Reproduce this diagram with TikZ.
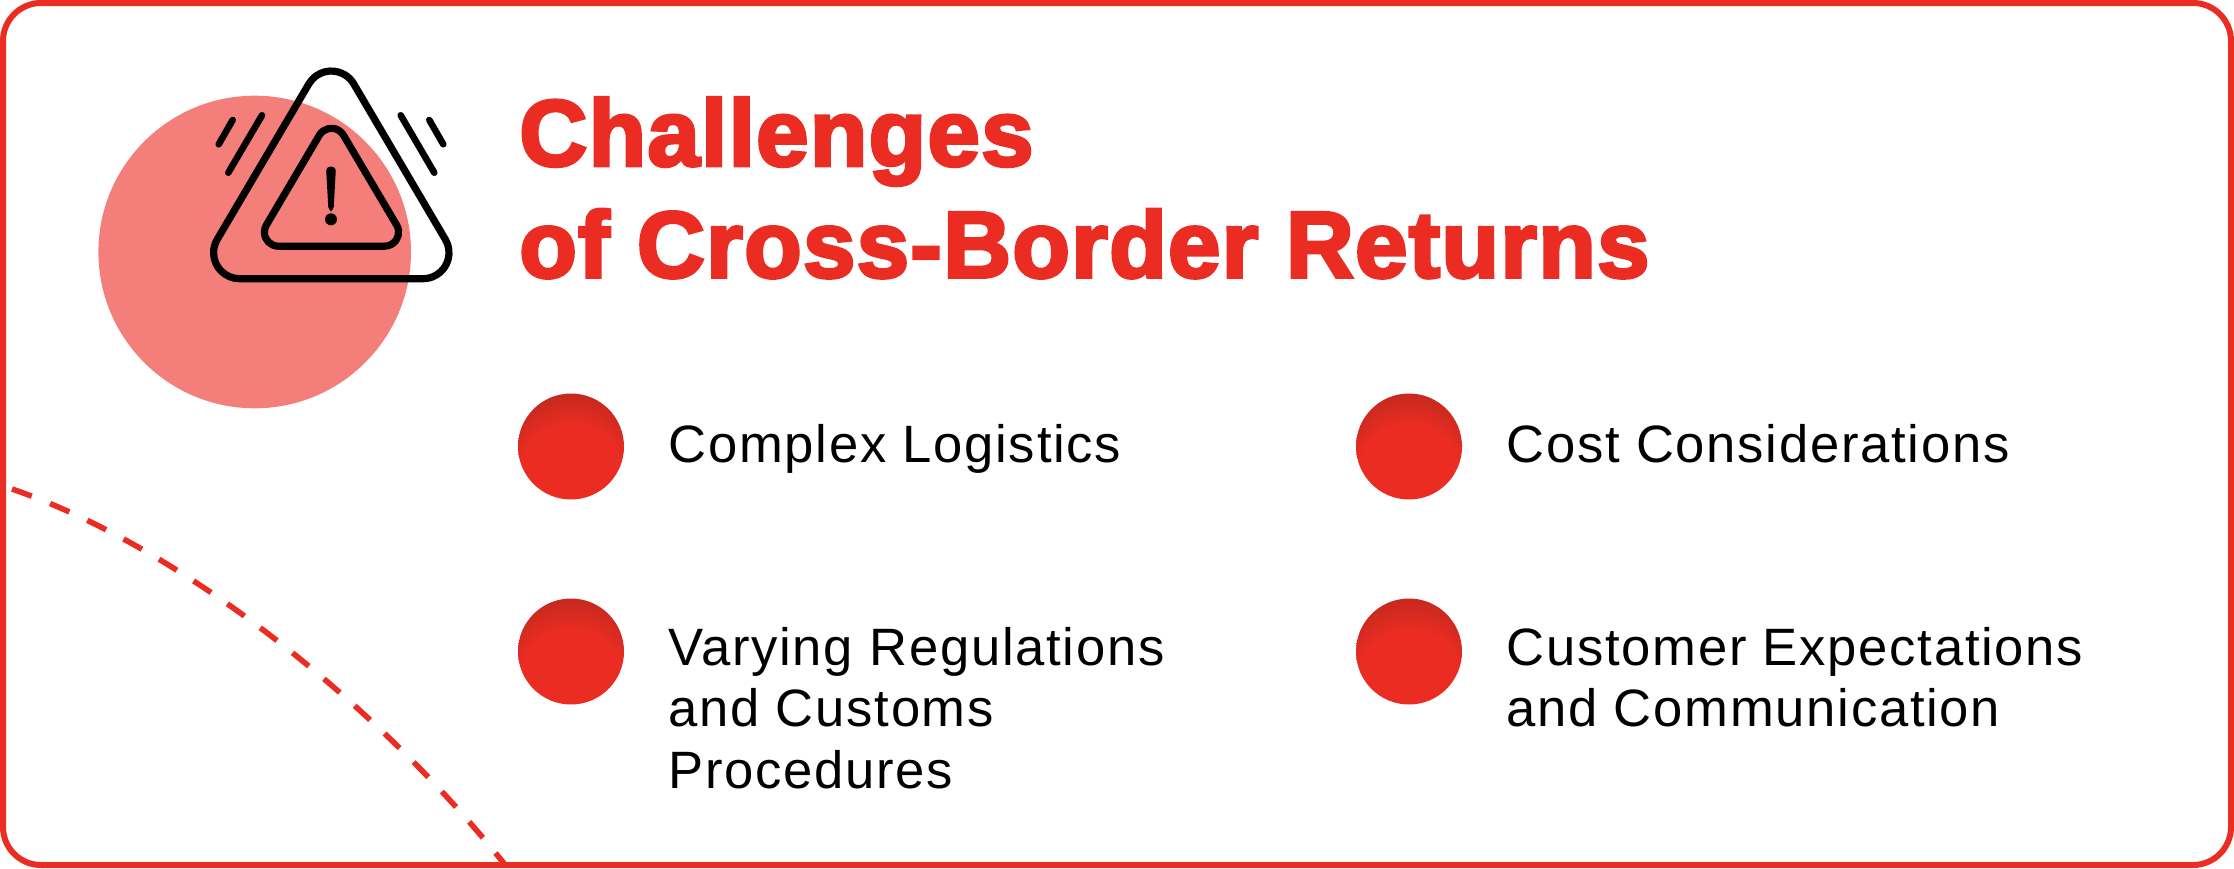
\documentclass[tikz,border=0pt]{standalone}
\usepackage{fontspec}
\setmainfont[LetterSpace=3.3]{Liberation Sans}
\newfontfamily\titlefont[FakeBold=3.5,LetterSpace=1.5]{Liberation Sans Bold}
\definecolor{brandred}{HTML}{EB2C22}
\definecolor{blobred}{HTML}{F47E7A}
\definecolor{shadered}{HTML}{B5281E}
\pgfdeclareradialshading{bulletshade}{\pgfpoint{0bp}{-18bp}}{
	color(0bp)=(brandred);
	color(24bp)=(brandred);
	color(42bp)=(shadered);
	color(100bp)=(shadered)}
\begin{document}
\begin{tikzpicture}[
		x=0.5pt, y=-0.5pt,
		bullet/.style={circle, minimum size=53pt, inner sep=0pt, shading=bulletshade},
		itemtext/.style={anchor=base west, align=left, inner sep=0pt, font=\fontsize{26.3}{30.8}\selectfont},
		headline/.style={anchor=base west, inner sep=0pt, text=brandred, font=\titlefont\fontsize{47}{47}\selectfont},
		icon/.style={draw=black, line width=3.6pt, line cap=round, line join=round}
	]
  \useasboundingbox (0,0) rectangle (2234,868);
  \draw [brandred, line width=3pt, rounded corners=19pt] (3,3) rectangle (2231,865);

  \fill [blobred] (254.7,252) circle [radius=78.15pt];

  % warning icon
  \draw [icon] (308.89,83.82) arc [start angle=210.47, end angle=329.53, radius=26]
    -- (445.41,239.52) arc [start angle=329.53, end angle=450, radius=26]
    -- (239.6,278.7) arc [start angle=90, end angle=210.47, radius=26] -- cycle;
  \draw [icon] (319.34,135.2) arc [start angle=210.47, end angle=329.53, radius=14]
    -- (396.66,225.1) arc [start angle=329.53, end angle=450, radius=14]
    -- (278.4,246.2) arc [start angle=90, end angle=210.47, radius=14] -- cycle;
  \draw [icon, line width=3.3pt] (232.7,120) -- (218.7,144.3);
  \draw [icon, line width=3.3pt] (262,115.3) -- (228.3,172.7);
  \draw [icon, line width=3.3pt] (400.7,115.3) -- (434.3,172.7);
  \draw [icon, line width=3.3pt] (429.3,120) -- (443.3,144.3);
  \fill [rounded corners=2pt] (326,166.7) -- (336,166.7) -- (333.5,211) -- (328.5,211) -- cycle;
  \fill (331,219.3) circle [radius=3pt];

  \node (line1) [headline] at (519,165.7) {Challenges};
  \node (line2) [headline] at (519,277.3) {of Cross-Border Returns};

  \node (b1) [bullet] at (571,446.5) {};
  \node (b2) [bullet] at (1409,446.5) {};
  \node (b3) [bullet] at (571,651.5) {};
  \node (b4) [bullet] at (1409,651.5) {};

  \node (t1) [itemtext] at (668,462.7) {Complex Logistics};
  \node (t2) [itemtext] at (1506,462.7) {Cost Considerations};
  \node (t3) [itemtext] at (668,788.3) {Varying Regulations\\and Customs\\Procedures};
  \node (t4) [itemtext] at (1506,726.7) {Customer Expectations\\and Communication};

  \coordinate (dashstart) at (12,489);
  \coordinate (dashend) at (506,866);
  \draw [brandred, line width=2.8pt, dash pattern=on 10.5pt off 9.9pt]
    (dashstart) .. controls (189,550) and (384,712) .. (dashend);
\end{tikzpicture}
\end{document}
